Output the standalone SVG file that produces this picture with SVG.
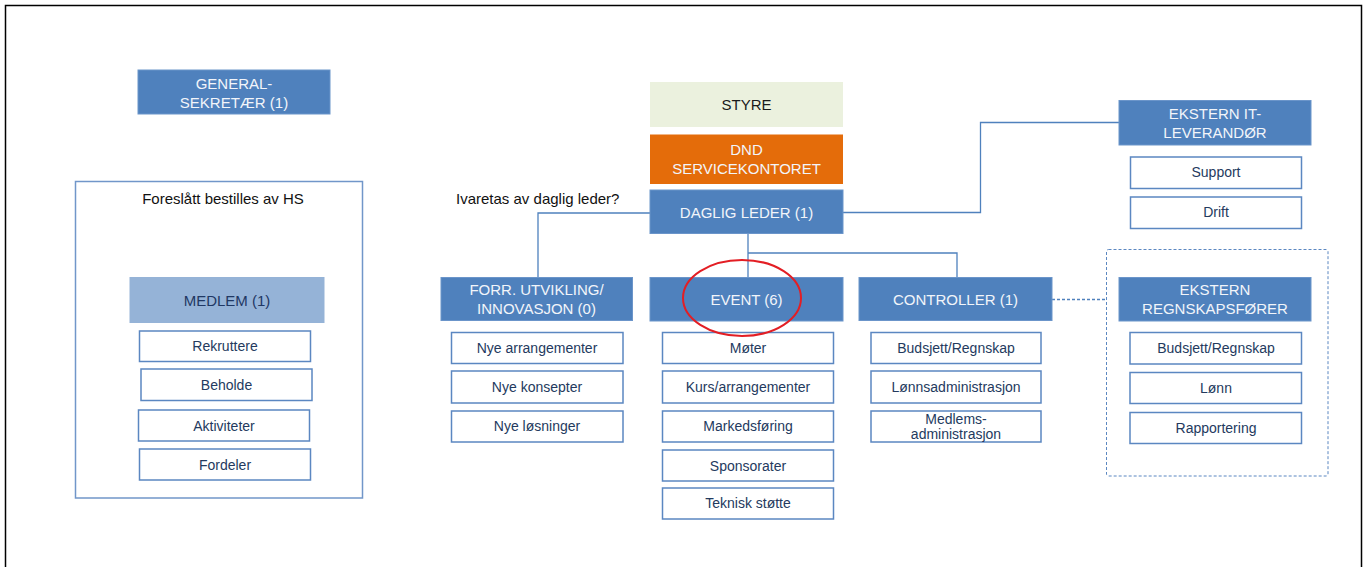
<svg xmlns="http://www.w3.org/2000/svg" width="1367" height="567" viewBox="0 0 1367 567">
<style>
.bb{fill:#4F81BD;stroke:#6B95CA;stroke-width:1}
.bt{font-family:"Liberation Sans",Arial,sans-serif;font-size:15px;fill:#F2F5FA;text-anchor:middle}
.wb{fill:#FFFFFF;stroke:#5B87C1;stroke-width:1.5}
.wt{font-family:"Liberation Sans",Arial,sans-serif;font-size:14px;fill:#243A5E;text-anchor:middle}
.pl{font-family:"Liberation Sans",Arial,sans-serif;font-size:15px;fill:#111111}
.cn{fill:none;stroke:#4F81BD;stroke-width:1.3}
</style>
<rect x="0" y="0" width="1367" height="567" fill="#FFFFFF"/>
<path d="M5.5,567 V5.5 H1361.5 V567" fill="none" stroke="#000000" stroke-width="1.5"/>

<g id="connectors">
<path class="cn" d="M650,213 H538 V277.5"/>
<path class="cn" d="M748,233.5 V277.5"/>
<path class="cn" d="M748,253 H957 V277.5"/>
<path class="cn" d="M843,212.5 H980.5 V122.5 H1119" stroke-width="2.2"/>
<path class="cn" d="M1052,299.5 H1106.5" stroke-dasharray="3,2" stroke-width="1"/>
</g>

<g id="generalsekretaer">
<rect class="bb" x="138" y="70" width="192" height="44"/>
<text class="bt" x="234" y="89">GENERAL-</text>
<text class="bt" x="234" y="108">SEKRETÆR (1)</text>
</g>

<g id="hs-box">
<rect x="75.5" y="181.5" width="287" height="316.5" fill="#FFFFFF" stroke="#7196C9" stroke-width="1.5"/>
<text class="pl" x="223" y="204" text-anchor="middle">Foreslått bestilles av HS</text>
</g>

<g id="medlem">
<rect x="129.5" y="277" width="195" height="46" fill="#95B3D7"/>
<text class="bt" x="227" y="306" fill="#1F3864" style="fill:#1F3864">MEDLEM (1)</text>
</g>
<g id="rekruttere"><rect class="wb" x="139.5" y="331" width="171" height="30.5"/><text class="wt" x="225" y="350.5">Rekruttere</text></g>
<g id="beholde"><rect class="wb" x="141" y="369" width="171" height="31.5"/><text class="wt" x="226.5" y="389.5">Beholde</text></g>
<g id="aktiviteter"><rect class="wb" x="138.5" y="410" width="171" height="31"/><text class="wt" x="224" y="430.5">Aktiviteter</text></g>
<g id="fordeler"><rect class="wb" x="139.5" y="449" width="171" height="31"/><text class="wt" x="225" y="469.5">Fordeler</text></g>

<g id="styre">
<rect x="650" y="82" width="193" height="45" fill="#EBF1DE"/>
<text class="bt" x="746.5" y="109.5" style="fill:#1A1A1A">STYRE</text>
</g>
<g id="dnd">
<rect x="650" y="134.5" width="193" height="49.5" fill="#E46C0A"/>
<text class="bt" x="746.5" y="154.5">DND</text>
<text class="bt" x="746.5" y="173.5">SERVICEKONTORET</text>
</g>
<g id="daglig-leder">
<rect class="bb" x="650" y="190" width="193" height="43.5"/>
<text class="bt" x="746.5" y="218">DAGLIG LEDER (1)</text>
</g>
<text class="pl" x="456" y="203.5">Ivaretas av daglig leder?</text>

<g id="forr">
<rect class="bb" x="441" y="277.5" width="191.5" height="43"/>
<text class="bt" x="536.5" y="295.3">FORR. UTVIKLING/</text>
<text class="bt" x="536.5" y="314.3">INNOVASJON (0)</text>
</g>
<g id="nye-arrangementer"><rect class="wb" x="451.5" y="332.5" width="171.5" height="31"/><text class="wt" x="537" y="352.5">Nye arrangementer</text></g>
<g id="nye-konsepter"><rect class="wb" x="451.5" y="371" width="171.5" height="32"/><text class="wt" x="537" y="392">Nye konsepter</text></g>
<g id="nye-losninger"><rect class="wb" x="451.5" y="411" width="171.5" height="31"/><text class="wt" x="537" y="431">Nye løsninger</text></g>

<g id="event">
<rect class="bb" x="650" y="277.5" width="193" height="43.5"/>
<text class="bt" x="746.5" y="304.6">EVENT (6)</text>
</g>
<g id="moter"><rect class="wb" x="662.5" y="332.5" width="171" height="31"/><text class="wt" x="748" y="352.5">Møter</text></g>
<g id="kurs"><rect class="wb" x="662.5" y="371" width="171" height="32"/><text class="wt" x="748" y="392">Kurs/arrangementer</text></g>
<g id="markedsforing"><rect class="wb" x="662.5" y="411" width="171" height="31"/><text class="wt" x="748" y="431">Markedsføring</text></g>
<g id="sponsorater"><rect class="wb" x="662.5" y="450" width="171" height="31"/><text class="wt" x="748" y="470.5">Sponsorater</text></g>
<g id="teknisk"><rect class="wb" x="662.5" y="488" width="171" height="31"/><text class="wt" x="748" y="508.3">Teknisk støtte</text></g>

<g id="controller">
<rect class="bb" x="859" y="277.5" width="193" height="43"/>
<text class="bt" x="955.5" y="304.6">CONTROLLER (1)</text>
</g>
<g id="budsjett1"><rect class="wb" x="871" y="332.5" width="170" height="31"/><text class="wt" x="956" y="352.5">Budsjett/Regnskap</text></g>
<g id="lonnsadmin"><rect class="wb" x="871" y="371" width="170" height="32"/><text class="wt" x="956" y="392">Lønnsadministrasjon</text></g>
<g id="medlemsadmin"><rect class="wb" x="871" y="411" width="170" height="31"/><text class="wt" x="956" y="424">Medlems-</text><text class="wt" x="956" y="439">administrasjon</text></g>

<g id="ekstern-it">
<rect class="bb" x="1119" y="100.5" width="192" height="44.5"/>
<text class="bt" x="1215" y="119.3">EKSTERN IT-</text>
<text class="bt" x="1215" y="138">LEVERANDØR</text>
</g>
<g id="support"><rect class="wb" x="1130.5" y="157" width="171" height="31.5"/><text class="wt" x="1216" y="177">Support</text></g>
<g id="drift"><rect class="wb" x="1130.5" y="197" width="171" height="31.5"/><text class="wt" x="1216" y="217">Drift</text></g>

<g id="regnskap-box">
<rect x="1106.5" y="249.5" width="221.5" height="226.5" rx="2" fill="none" stroke="#5B87C1" stroke-width="1" stroke-dasharray="3,2"/>
</g>
<g id="ekstern-regnskap">
<rect class="bb" x="1119" y="277.5" width="192" height="43.5"/>
<text class="bt" x="1215" y="295.3">EKSTERN</text>
<text class="bt" x="1215" y="314.3">REGNSKAPSFØRER</text>
</g>
<g id="budsjett2"><rect class="wb" x="1130" y="332.5" width="171.5" height="31.5"/><text class="wt" x="1216" y="353.3">Budsjett/Regnskap</text></g>
<g id="lonn"><rect class="wb" x="1130" y="372.5" width="171.5" height="31"/><text class="wt" x="1216" y="393.3">Lønn</text></g>
<g id="rapportering"><rect class="wb" x="1130" y="412.5" width="171.5" height="31"/><text class="wt" x="1216" y="433">Rapportering</text></g>

<ellipse id="highlight" cx="742" cy="298" rx="59" ry="38" fill="none" stroke="#E31E24" stroke-width="2"/>
</svg>
